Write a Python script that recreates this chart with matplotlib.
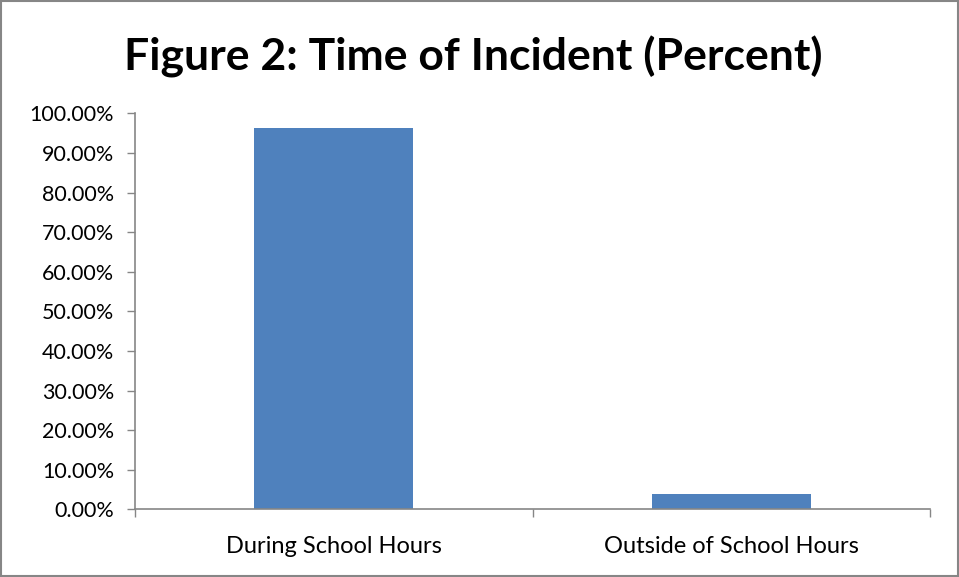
import matplotlib.pyplot as plt
from matplotlib.patches import Rectangle
from matplotlib.ticker import FixedLocator

# Chart data
categories = ['During School Hours', 'Outside of School Hours']
percent = [96.2, 3.8]
y_ticks = [0, 10, 20, 30, 40, 50, 60, 70, 80, 90, 100]

plt.rcParams['font.family'] = ['Lato', 'DejaVu Sans']

fig = plt.figure(figsize=(9.59, 5.77), dpi=100)
ax = fig.add_axes([0.1408, 0.1173, 0.8290, 0.6863])

x = list(range(len(categories)))
ax.bar(x, percent, width=0.4, color='#4F81BD', zorder=2)

ax.set_xlim(-0.5, len(categories) - 0.5)
ax.set_ylim(0, 100)

ax.set_yticks(y_ticks)
ax.set_yticklabels([f'{v:.2f}%' for v in y_ticks], fontsize=15.5)
ax.set_xticks(x)
ax.set_xticklabels(categories, fontsize=17)
ax.xaxis.set_minor_locator(FixedLocator([-0.5, 0.5, 1.5]))

ax.tick_params(axis='x', which='major', length=0, pad=19)
ax.tick_params(axis='x', which='minor', length=6, width=1, color='#868686', direction='out')
ax.tick_params(axis='y', length=6, width=1, color='#868686', direction='out', pad=9)

for side in ['top', 'right']:
    ax.spines[side].set_visible(False)
for side in ['left', 'bottom']:
    ax.spines[side].set_color('#868686')
    ax.spines[side].set_linewidth(1.2)

fig.text(0.4937, 0.902, 'Figure 2: Time of Incident (Percent)', ha='center', va='center',
         fontsize=32, fontweight='bold')

# grey outline round the chart
fig.patches.append(Rectangle((0.001, 0.002), 0.998, 0.996, transform=fig.transFigure,
                             fill=False, edgecolor='#868686', linewidth=1.5))

fig.savefig('out.png', dpi=100)
